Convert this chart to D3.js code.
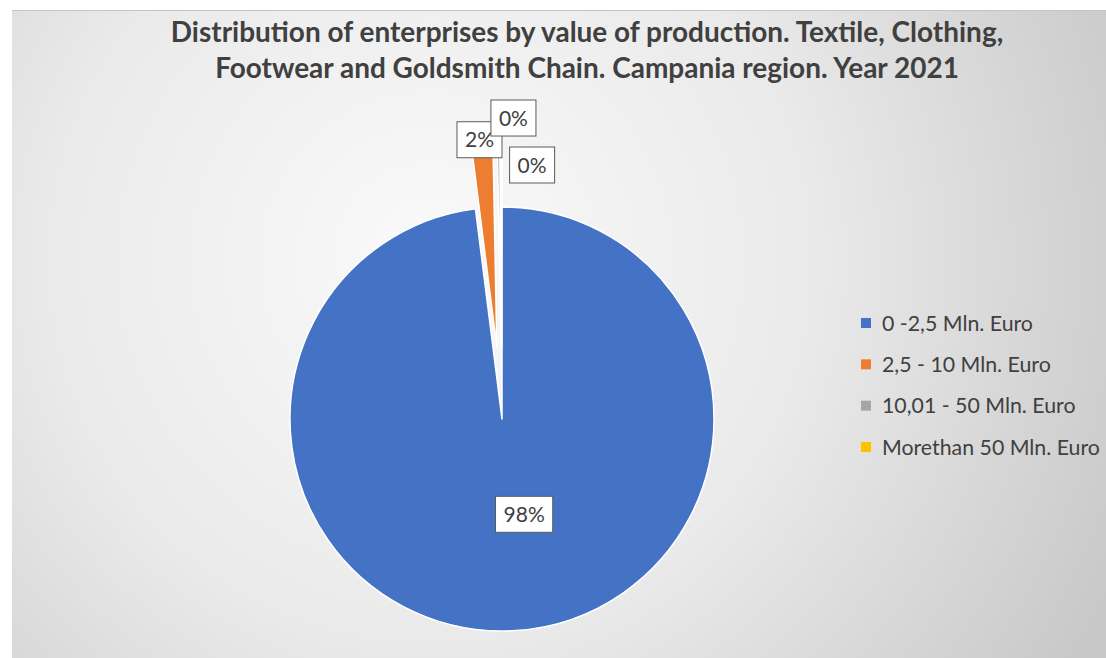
<!DOCTYPE html>
<html>
<head>
<meta charset="utf-8">
<script src="https://cdn.jsdelivr.net/npm/d3@7"></script>
<style>
  html, body { margin: 0; padding: 0; background: #ffffff; }
  svg { display: block; }
  text { font-family: Lato, "Open Sans", sans-serif; }
</style>
</head>
<body>
<svg id="chart" width="1106" height="658"></svg>
<script>
// Share of enterprises (%) by class of production value
const categories = ["0 -2,5 Mln. Euro", "2,5 - 10 Mln. Euro", "10,01 - 50 Mln. Euro", "Morethan 50 Mln. Euro"];
const shares = [98.0, 1.7, 0.2, 0.1];
const colors = ["#4472C4", "#ED7D31", "#A5A5A5", "#FFC000"];
const titleLines = [
  "Distribution of enterprises by value of production. Textile, Clothing,",
  "Footwear and Goldsmith Chain. Campania region. Year 2021"
];

// Layout
const W = 1106, H = 658;
const cx = 502, cy = 419, R = 212;
const explode = [0, 72, 72, 72];          // slice pull-out distance
const labelNudge = [[16, -2], [-2, 4], [15, -17], [31, 30]];

const svg = d3.select("#chart");
const defs = svg.append("defs");

// Chart area background: soft radial grey fill
const grad = defs.append("radialGradient")
  .attr("id", "bg").attr("gradientUnits", "userSpaceOnUse")
  .attr("cx", 430).attr("cy", 260).attr("r", 760);
grad.append("stop").attr("offset", "0%").attr("stop-color", "#fafafa");
grad.append("stop").attr("offset", "50%").attr("stop-color", "#eaeaea");
grad.append("stop").attr("offset", "100%").attr("stop-color", "#c8c8c8");

svg.append("rect").attr("x", 12).attr("y", 10)
  .attr("width", W - 12).attr("height", H - 10)
  .attr("fill", "url(#bg)");
svg.append("line").attr("x1", 12).attr("x2", W).attr("y1", 10.5).attr("y2", 10.5)
  .attr("stroke", "#c4c4c4").attr("stroke-width", 1);

// Title
const title = svg.append("g");
const titleTexts = title.selectAll("text").data(titleLines).join("text")
  .attr("x", 587).attr("y", (d, i) => 42 + i * 36)
  .attr("text-anchor", "middle")
  .attr("font-weight", "bold")
  .attr("font-size", 24)
  .attr("fill", "#404040")
  .text(d => d);
// size the title so the first line spans its intended width
const w0 = titleTexts.nodes()[0].getComputedTextLength();
titleTexts.attr("font-size", 24 * 833 / w0);

// Pie
const pie = d3.pie().sort(null).value(d => d.v).startAngle(0).endAngle(2 * Math.PI);
const arcs = pie(shares.map((v, i) => ({ v, i })));
const arc = d3.arc().innerRadius(0).outerRadius(R);

const offsetOf = d => {
  const a = (d.startAngle + d.endAngle) / 2;
  const e = explode[d.data.i];
  return [Math.sin(a) * e, -Math.cos(a) * e];
};

const pieG = svg.append("g").attr("transform", `translate(${cx},${cy})`);
pieG.selectAll("path").data(arcs).join("path")
  .attr("d", arc)
  .attr("transform", d => { const o = offsetOf(d); return `translate(${o[0]},${o[1]})`; })
  .attr("fill", d => colors[d.data.i])
  .attr("stroke", "#ffffff")
  .attr("stroke-width", 1.5)
  .attr("stroke-linejoin", "round");

// Data labels in white boxes
const labelPos = d => {
  const o = offsetOf(d);
  const a = (d.startAngle + d.endAngle) / 2;
  const rr = d.data.i === 0 ? R * 0.46 : R;
  const n = labelNudge[d.data.i];
  return [o[0] + Math.sin(a) * rr + n[0], o[1] - Math.cos(a) * rr + n[1]];
};
const lab = pieG.selectAll("g.lab").data(arcs).join("g").attr("class", "lab")
  .attr("transform", d => { const p = labelPos(d); return `translate(${p[0]},${p[1]})`; });
lab.append("text")
  .attr("text-anchor", "middle")
  .attr("dy", "0.36em")
  .attr("font-size", 21)
  .attr("fill", "#404040")
  .text(d => d3.format(".0f")(d.data.v) + "%");
lab.insert("rect", "text")
  .each(function () {
    const t = d3.select(this.parentNode).select("text").node();
    const w = t.getComputedTextLength();
    d3.select(this)
      .attr("x", -w / 2 - 8).attr("y", -18)
      .attr("width", w + 16).attr("height", 36);
  })
  .attr("fill", "#ffffff")
  .attr("stroke", "#5a5a5a")
  .attr("stroke-width", 1);

// Legend
const legY = d3.scalePoint().domain(d3.range(categories.length)).range([323, 447]);
const leg = svg.append("g");
const items = leg.selectAll("g").data(categories).join("g")
  .attr("transform", (d, i) => `translate(861,${legY(i)})`);
items.append("rect").attr("x", 0).attr("y", -5).attr("width", 10).attr("height", 10)
  .attr("fill", (d, i) => colors[i]);
const legTexts = items.append("text").attr("x", 21).attr("dy", "0.36em")
  .attr("font-size", 17).attr("fill", "#404040")
  .text(d => d);
// fit the longest entry to the legend's width
const wl = d3.max(legTexts.nodes(), n => n.getComputedTextLength());
legTexts.attr("font-size", 17 * 218 / wl);
</script>
</body>
</html>
